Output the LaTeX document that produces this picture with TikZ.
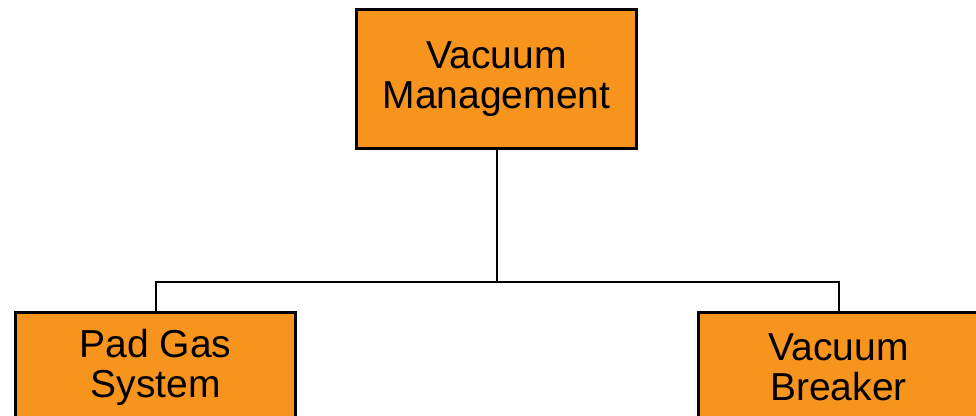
\documentclass[tikz,border=0pt]{standalone}
\usepackage{fontspec}
\setmainfont{Liberation Sans}
\definecolor{boxorange}{RGB}{247,148,30}
\tikzset{
  orgbox/.style={draw=black, line width=3pt, fill=boxorange, minimum width=280pt,
    align=center, inner sep=0pt, font=\fontsize{39}{40}\selectfont},
  link/.style={draw=black, line width=2pt}
}
\begin{document}
\begin{tikzpicture}[x=1pt,y=1pt]
\clip (0,0) rectangle (976,-415);
\fill[white] (0,0) rectangle (976,-415);
\node[orgbox, minimum height=139pt] (top) at (496.5,-79) {Vacuum\\Management};
\node[orgbox, minimum height=110pt] (left) at (155.5,-367.5) {Pad Gas\\System};
\node[orgbox, minimum height=110pt] (right) at (838.5,-367.5) {Vacuum\\Breaker};
\coordinate (j) at (496.5,-282);
\draw[link] (top.south) -- (j);
\draw[link] (left.north) |- (j) -| (right.north);
\end{tikzpicture}
\end{document}
